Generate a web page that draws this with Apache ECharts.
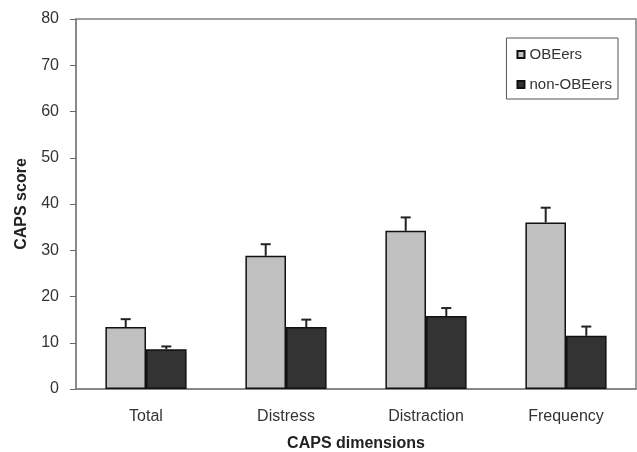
<!DOCTYPE html>
<html>
<head>
<meta charset="utf-8">
<script src="https://cdn.jsdelivr.net/npm/echarts@6/dist/echarts.min.js"></script>
<style>
  html, body { margin: 0; padding: 0; background: #fff; }
  #chart { width: 637px; height: 452px; }
</style>
</head>
<body>
<div id="chart"></div>
<script>
var categories = ['Total', 'Distress', 'Distraction', 'Frequency']
var obeers = [13.4, 28.8, 34.2, 36.0]
var obeersErr = [1.7, 2.5, 2.9, 3.2]
var nonObeers = [8.6, 13.4, 15.8, 11.5]
var nonObeersErr = [0.6, 1.6, 1.7, 2.0]
var yTicks = [0, 80, 10]

var font = 'Liberation Sans, Arial, sans-serif'
var barRatio = 0.29

// 误差线，只画上半部分
function errorSeries(name, vals, errs, side) {
  return {
    type: 'custom',
    name: name + ' err',
    z: 5,
    silent: true,
    data: vals.map(function (v, i) { return [i, v, v + errs[i]] }),
    renderItem: function (params, api) {
      var band = api.size([1, 0])[0]
      var dx = side * band * barRatio / 2
      var lo = api.coord([api.value(0), api.value(1)])
      var hi = api.coord([api.value(0), api.value(2)])
      var x = lo[0] + dx
      var style = { stroke: '#222', lineWidth: 2 }
      return {
        type: 'group',
        children: [
          { type: 'line', shape: { x1: x, y1: lo[1], x2: x, y2: hi[1] }, style: style },
          { type: 'line', shape: { x1: x - 5, y1: hi[1], x2: x + 5, y2: hi[1] }, style: style }
        ]
      }
    }
  }
}

var chart = echarts.init(document.getElementById('chart'))
chart.setOption({
  animation: false,
  grid: {
    left: 76, right: 1, top: 19, bottom: 63,
    outerBoundsMode: 'none',
    containLabel: false,
    show: true, borderColor: '#808080', borderWidth: 1.5
  },
  legend: {
    data: ['OBEers', 'non-OBEers'],
    orient: 'vertical',
    right: 19, top: 38,
    padding: [9, 6, 7, 10],
    itemGap: 15,
    itemWidth: 7, itemHeight: 7,
    icon: 'rect',
    borderColor: '#555', borderWidth: 1,
    textStyle: { fontFamily: font, fontSize: 15, color: '#333' }
  },
  xAxis: {
    type: 'category',
    data: categories,
    name: 'CAPS dimensions',
    nameLocation: 'middle',
    nameGap: 47,
    nameTextStyle: { fontFamily: font, fontSize: 16, fontWeight: 'bold', color: '#222' },
    axisLine: { lineStyle: { color: '#808080', width: 1.5 } },
    axisTick: { length: 5, lineStyle: { color: '#666' } },
    axisLabel: { fontFamily: font, fontSize: 16, color: '#333', margin: 20 }
  },
  yAxis: {
    type: 'value',
    min: yTicks[0], max: yTicks[1], interval: yTicks[2],
    name: 'CAPS score',
    nameLocation: 'middle',
    nameGap: 46,
    nameTextStyle: { fontFamily: font, fontSize: 16, fontWeight: 'bold', color: '#222' },
    axisLine: { show: true, lineStyle: { color: '#808080', width: 1.5 } },
    axisTick: { show: true, length: 6, lineStyle: { color: '#666' } },
    axisLabel: { fontFamily: font, fontSize: 16, color: '#333', margin: 17 },
    splitLine: { show: false }
  },
  series: [
    {
      name: 'OBEers',
      type: 'bar',
      data: obeers,
      barWidth: (barRatio * 100) + '%',
      barGap: '0%',
      itemStyle: { color: '#c0c0c0', borderColor: '#111', borderWidth: 1.5 }
    },
    {
      name: 'non-OBEers',
      type: 'bar',
      data: nonObeers,
      barWidth: (barRatio * 100) + '%',
      barGap: '0%',
      itemStyle: { color: '#333333', borderColor: '#111', borderWidth: 1.5 }
    },
    errorSeries('OBEers', obeers, obeersErr, -1),
    errorSeries('non-OBEers', nonObeers, nonObeersErr, 1)
  ]
})
</script>
</body>
</html>
